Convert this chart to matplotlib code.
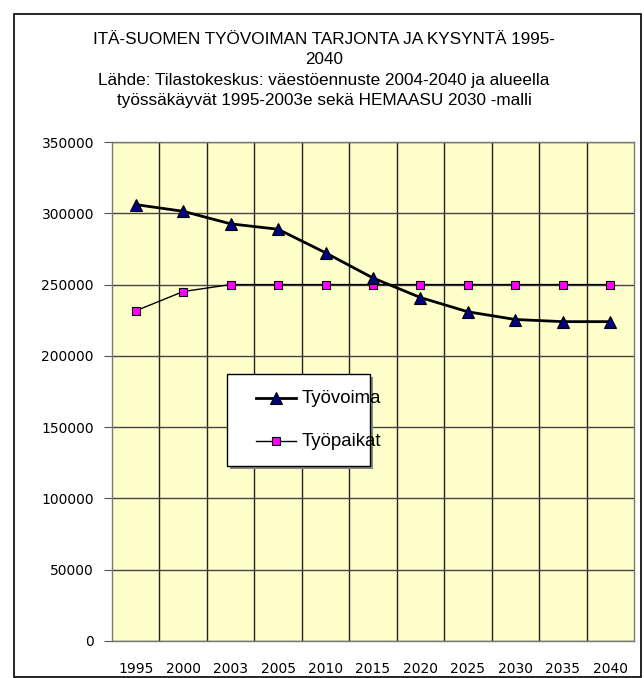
import matplotlib
matplotlib.use("Agg")
import matplotlib.pyplot as plt
from matplotlib.patches import Rectangle
from matplotlib.lines import Line2D

years = ["1995", "2000", "2003", "2005", "2010", "2015", "2020", "2025", "2030", "2035", "2040"]
tyovoima = [306100, 301400, 292600, 288800, 272300, 254600, 240900, 230900, 225500, 224000, 224000]
tyopaikat = [231600, 245100, 250000, 250000, 250000, 250000, 250000, 250000, 250000, 250000, 250000]
yticks = [0, 50000, 100000, 150000, 200000, 250000, 300000, 350000]

plt.rcParams['font.family'] = ['DejaVu Sans']
TF = ['Liberation Sans', 'DejaVu Sans']

W, H = 644, 678
fig = plt.figure(figsize=(W/100, H/100), dpi=100)
fig.patch.set_facecolor('white')

# outer frame
fig.add_artist(Rectangle((14/W, 1 - 677/H), (641-14)/W, (677-14)/H, transform=fig.transFigure,
                         fill=False, edgecolor='black', linewidth=1.2))

left, right, top, bottom = 112, 634, 142, 641
ax = fig.add_axes([left/W, 1 - bottom/H, (right-left)/W, (bottom-top)/H])
ax.set_facecolor('#FFFFCC')
x = list(range(len(years)))

ax.set_xlim(-0.5, len(years) - 0.5)
ax.set_ylim(0, 350000)
ax.set_yticks(yticks)
ax.set_yticklabels([str(v) for v in yticks], fontsize=10)
ax.set_xticks(x)
ax.set_xticklabels(years, fontsize=10)
ax.set_xticks([i + 0.5 for i in range(len(years) - 1)], minor=True)
ax.tick_params(axis='x', which='both', length=0, pad=15)
ax.tick_params(axis='y', length=6, width=0.8, color='#555555', pad=7)
ax.grid(axis='y', which='major', color='#444444', linewidth=1.0)
ax.grid(axis='x', which='minor', color='#222222', linewidth=1.0)
ax.set_axisbelow(True)
for s in ax.spines.values():
    s.set_color('#777777')
    s.set_linewidth(1.0)

ax.plot(x, tyovoima, color='black', linewidth=2.0, marker='^', markersize=8,
        markerfacecolor='#000080', markeredgecolor='black', markeredgewidth=0.8, label='Työvoima', zorder=4)
ax.plot(x, tyopaikat, color='black', linewidth=1.0, marker='s', markersize=6,
        markerfacecolor='#FF00FF', markeredgecolor='black', markeredgewidth=0.8, label='Työpaikat', zorder=3)

# legend box (manual, mimics Excel)
lx0, ly0, lx1, ly1 = 227, 374, 370, 466
fig.add_artist(Rectangle(((lx0+3)/W, 1 - (ly1+3)/H), (lx1-lx0)/W, (ly1-ly0)/H, transform=fig.transFigure,
                         facecolor='#888888', edgecolor='none', zorder=5))
fig.add_artist(Rectangle((lx0/W, 1 - ly1/H), (lx1-lx0)/W, (ly1-ly0)/H, transform=fig.transFigure,
                         facecolor='white', edgecolor='black', linewidth=1.0, zorder=6))
for yy, lw, mk, ms, fc, lab in [(398, 2.0, '^', 8, '#000080', 'Työvoima'),
                                (441, 1.0, 's', 6, '#FF00FF', 'Työpaikat')]:
    fig.add_artist(Line2D([256/W, 296/W], [1 - yy/H, 1 - yy/H], transform=fig.transFigure,
                          color='black', linewidth=lw, zorder=7))
    fig.add_artist(Line2D([276/W], [1 - yy/H], transform=fig.transFigure, marker=mk, markersize=ms,
                          markerfacecolor=fc, markeredgecolor='black', markeredgewidth=0.8, zorder=8))
    fig.text(302/W, 1 - (yy + 5)/H, lab, fontsize=13.4, family=TF, va='baseline', ha='left', zorder=8)

# title
title_lines = ["ITÄ-SUOMEN TYÖVOIMAN TARJONTA JA KYSYNTÄ 1995-",
               "2040",
               "Lähde: Tilastokeskus: väestöennuste 2004-2040 ja alueella",
               "työssäkäyvät 1995-2003e sekä HEMAASU 2030 -malli"]
for i, t in enumerate(title_lines):
    fig.text(324/W, 1 - (43.5 + i*20.5)/H, t, fontsize=12.3, family=TF, ha='center', va='baseline')

fig.savefig('out.png', dpi=100)
